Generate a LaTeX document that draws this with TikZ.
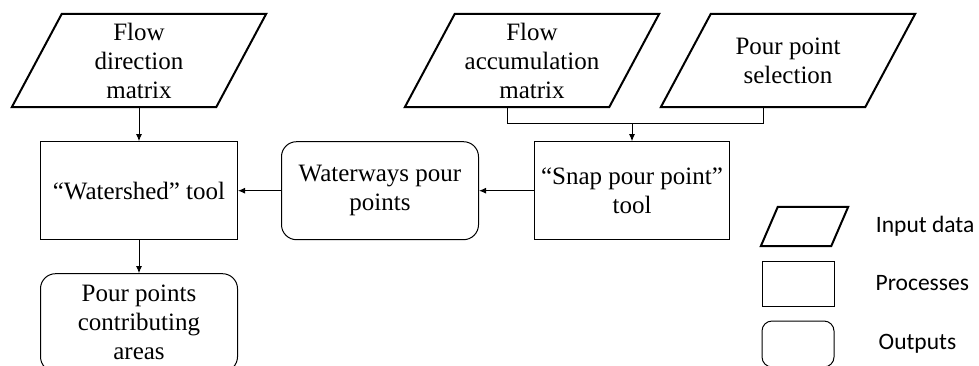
\documentclass[tikz,border=0pt]{standalone}
\usepackage{fontspec}
\setmainfont{Liberation Serif}
\newfontfamily\keyfont{Carlito}
\usetikzlibrary{arrows.meta,calc,positioning}

\begin{document}
\begin{tikzpicture}[
      x=1pt,y=-1pt,
      >={Latex[length=7pt,width=6pt]},
      font=\fontsize{25}{29}\selectfont,
      datain/.style={minimum width=204pt,minimum height=93pt,inner sep=2pt,align=center,
        append after command={\pgfextra{\draw[line width=2pt]
          ([xshift=-#1pt]\tikzlastnode.south west) -- ([xshift=-#1pt]\tikzlastnode.south east)
          -- ([xshift=#1pt]\tikzlastnode.north east) -- ([xshift=#1pt]\tikzlastnode.north west)
          -- cycle;}}},
      datain/.default=25]
    \tikzstyle{process}=[draw,line width=1pt,minimum width=197pt,
      minimum height=98pt,inner sep=2pt,align=center]
    \tikzstyle{result}=[process,rounded corners=15pt]
    \tikzstyle{conn}=[->,line width=1pt]
    \tikzstyle{keytext}=[font=\keyfont\fontsize{23.5}{27}\selectfont,inner sep=2pt]
    \useasboundingbox (0,0) rectangle (979,365);

    \node [datain] (fdm) at (139,60.5) {Flow\\direction\\matrix};
    \node [datain] (facc) at (532,60.5) {Flow\\accumulation\\matrix};
    \node [datain] (pps) at (788,60.5) {Pour point\\selection};

    \node [process,below=34pt of fdm] (ws) {“Watershed” tool};
    \node [result,below=33pt of ws] (res) {Pour points\\contributing\\areas};
    \node [result,right=43pt of ws] (ww) {Waterways pour\\points};
    \node [process,right=55pt of ww,minimum width=195pt] (snap) {“Snap pour point”\\tool};

    % both inputs join above the snap tool
    \coordinate (facc-b) at ($(facc.south)+(-25,0)$);
    \coordinate (pps-b) at ($(pps.south)+(-25,0)$);
    \coordinate (join) at ($(snap.north)+(0,-18)$);
    \draw [line width=1pt] (facc-b) |- (join) -| (pps-b);

    \path [conn]
    (fdm) edge (ws)
    (ws) edge (res)
    (ww) edge (ws)
    (snap) edge (ww)
    (join) edge (snap)
    ;

    % key
    \node [datain=8.5,minimum width=70pt,minimum height=39pt] (key-in) at (804.5,226.5) {};
    \node [process,minimum width=72pt,minimum height=45pt] (key-pr) at (798,283.5) {};
    \node [result,minimum width=72pt,minimum height=46pt,rounded corners=10pt] (key-res) at (798,344) {};
    \node [keytext,right=34pt of key-in] {Input data};
    \node [keytext,right=39pt of key-pr] {Processes};
    \node [keytext,right=42pt of key-res] {Outputs};

  \end{tikzpicture}
\end{document}
